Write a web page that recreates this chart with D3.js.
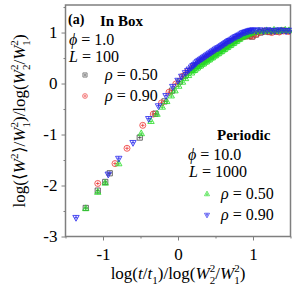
<!DOCTYPE html>
<meta charset="utf-8">
<script src="https://d3js.org/d3.v7.min.js"></script>
<style>
  body { margin: 0; background: #fff; }
  text { font-family: "Liberation Serif", "Times New Roman", serif; fill: #000; }
</style>
<div id="my_dataviz"></div>
<script>

// data: [x, y] pairs for each series
var boxRho050 = [[-1.23,-2.44],[-1.07,-2.10],[-0.97,-1.93],[-0.91,-1.76],[-0.51,-1.06],[-0.30,-0.59],[-0.18,-0.35],[-0.08,-0.14],[0.02,0.04],[0.10,0.16],[0.18,0.27],[0.25,0.35],[0.32,0.43],[0.38,0.48],[0.44,0.53],[0.50,0.59],[0.55,0.64],[0.60,0.69],[0.65,0.74],[0.70,0.79],[0.74,0.83],[0.78,0.87],[0.82,0.90],[0.86,0.92],[0.90,0.93],[0.95,0.93],[0.99,0.92],[1.04,0.96],[1.10,1.00],[1.16,1.02],[1.22,1.01],[1.28,1.03],[1.34,1.02],[1.40,1.04],[1.46,1.03]];
var boxRho090 = [[-1.07,-1.96],[-0.84,-1.57],[-0.68,-1.27],[-0.47,-0.82],[-0.33,-0.60],[-0.22,-0.38],[-0.12,-0.17],[-0.03,-0.01],[0.06,0.14],[0.13,0.24],[0.20,0.33],[0.27,0.40],[0.33,0.46],[0.39,0.52],[0.45,0.58],[0.51,0.63],[0.56,0.67],[0.61,0.72],[0.66,0.77],[0.71,0.81],[0.75,0.85],[0.79,0.88],[0.83,0.90],[0.87,0.92],[0.91,0.93],[0.96,0.93],[1.00,0.93],[1.05,0.97],[1.10,1.01],[1.15,1.03],[1.20,1.02],[1.25,1.00],[1.30,1.02],[1.35,1.01],[1.41,1.03],[1.47,1.02]];
var perRho050 = [[-1.23,-2.45],[-1.07,-2.13],[-0.97,-1.95],[-0.79,-1.57],[-0.49,-0.98],[-0.36,-0.74],[-0.28,-0.60],[-0.21,-0.46],[-0.15,-0.35],[-0.09,-0.24],[-0.04,-0.14],[0.01,-0.05],[0.06,0.03],[0.10,0.10],[0.14,0.16],[0.18,0.21],[0.20,0.25],[0.22,0.26],[0.24,0.29],[0.26,0.31],[0.28,0.34],[0.30,0.35],[0.32,0.38],[0.34,0.39],[0.36,0.42],[0.38,0.43],[0.40,0.46],[0.42,0.47],[0.44,0.50],[0.46,0.51],[0.48,0.54],[0.50,0.55],[0.52,0.58],[0.54,0.59],[0.56,0.62],[0.58,0.63],[0.60,0.66],[0.62,0.67],[0.64,0.70],[0.66,0.71],[0.68,0.74],[0.70,0.75],[0.72,0.78],[0.74,0.79],[0.76,0.82],[0.78,0.83],[0.80,0.86],[0.82,0.87],[0.84,0.90],[0.86,0.91],[0.88,0.93],[0.90,0.94],[0.92,0.96],[0.94,0.97],[0.96,0.99],[0.98,0.99],[1.03,1.01],[1.08,1.03],[1.13,1.02],[1.18,1.04],[1.23,1.03],[1.28,1.05],[1.33,1.03],[1.38,1.04],[1.43,1.05],[1.48,1.04]];
var perRho090 = [[-1.36,-2.63],[-0.93,-1.78],[-0.79,-1.47],[-0.60,-1.16],[-0.39,-0.69],[-0.26,-0.44],[-0.16,-0.24],[-0.07,-0.06],[0.00,0.06],[0.05,0.14],[0.10,0.21],[0.13,0.25],[0.15,0.28],[0.18,0.32],[0.20,0.35],[0.22,0.37],[0.24,0.40],[0.26,0.43],[0.28,0.45],[0.30,0.47],[0.32,0.49],[0.34,0.51],[0.36,0.53],[0.38,0.55],[0.40,0.57],[0.42,0.59],[0.44,0.61],[0.46,0.63],[0.48,0.65],[0.50,0.67],[0.52,0.69],[0.54,0.70],[0.56,0.72],[0.58,0.74],[0.60,0.76],[0.62,0.78],[0.64,0.80],[0.66,0.82],[0.68,0.84],[0.70,0.85],[0.72,0.87],[0.74,0.89],[0.76,0.91],[0.78,0.92],[0.80,0.94],[0.82,0.95],[0.84,0.97],[0.86,0.99],[0.88,1.00],[0.90,1.01],[0.92,1.02],[0.94,1.03],[0.96,1.04],[0.98,1.04],[1.00,1.05],[1.04,1.04],[1.09,1.05],[1.14,1.03],[1.19,1.05],[1.24,1.04],[1.29,1.03],[1.34,1.05],[1.39,1.04],[1.44,1.03],[1.49,1.04]];

var xTicks = [-1, 0, 1];
var xMinor = [-1.5, -0.5, 0.5, 1.5];
var yTicks = [-3, -2, -1, 0, 1];
var yMinor = [-2.5, -1.5, -0.5, 0.5, 1.5];

// set the dimensions and margins of the graph
var margin = {top: 5, right: 1.5, bottom: 52.5, left: 65.5},
    width = 292 - margin.left - margin.right,
    height = 289 - margin.top - margin.bottom;

var svg = d3.select("#my_dataviz")
  .append("svg")
    .attr("width", 292)
    .attr("height", 289)
  .append("g")
    .attr("transform", "translate(" + margin.left + "," + margin.top + ")");

var x = d3.scaleLinear().domain([-1.5, 1.5]).range([0, width]);
var y = d3.scaleLinear().domain([-3, 1.54]).range([height, 0]);

var axisColor = "#7f7f7f";
var serif = "Liberation Serif, Times New Roman, serif";
var fmt = function(d) { return d < 0 ? "-" + Math.abs(d) : String(d); };

// frame
svg.append("rect")
  .attr("width", width).attr("height", height)
  .attr("fill", "none").attr("stroke", axisColor).attr("stroke-width", 1.5);

// X axis
var gx = svg.append("g").attr("transform", "translate(0," + height + ")");
gx.call(d3.axisBottom(x).tickValues(xTicks).tickSize(4).tickFormat(fmt));
gx.attr("font-family", serif).attr("font-size", 17);
gx.selectAll("text").attr("dy", "0.95em");
gx.append("g").call(d3.axisBottom(x).tickValues(xMinor).tickSize(2).tickFormat(""));
gx.selectAll(".domain").remove();
gx.selectAll("line").attr("stroke", axisColor);

// Y axis
var gy = svg.append("g");
gy.call(d3.axisLeft(y).tickValues(yTicks).tickSize(4).tickFormat(fmt));
gy.attr("font-family", serif).attr("font-size", 17);
gy.selectAll("text").attr("x", -8);
gy.append("g").call(d3.axisLeft(y).tickValues(yMinor.filter(function(v){ return v < 1.54; })).tickSize(2).tickFormat(""));
gy.selectAll(".domain").remove();
gy.selectAll("line").attr("stroke", axisColor);

// markers
var cross = "M-1.8,0H1.8M0,-1.8V1.8";
var shapes = {
  square: "M-2.6,-2.6H2.6V2.6H-2.6Z" + cross,
  circle: "M-3,0A3,3 0 1,0 3,0A3,3 0 1,0 -3,0Z" + cross,
  up: "M0,-3.6L3.2,2.2H-3.2Z" + "M-1.6,0.3H1.6M0,-1.8V2.2",
  down: "M0,3.6L3.2,-2.2H-3.2Z" + "M-1.6,-0.3H1.6M0,-2.2V1.8"
};

var series = [
  {data: boxRho050, shape: "square", color: "#444444"},
  {data: boxRho090, shape: "circle", color: "#ee3333"},
  {data: perRho050, shape: "up", color: "#22dd22"},
  {data: perRho090, shape: "down", color: "#2222ee"}
];

series.forEach(function(s) {
  svg.append("g").selectAll("path")
    .data(s.data)
    .enter()
    .append("path")
      .attr("transform", function(d) { return "translate(" + x(d[0]) + "," + y(d[1]) + ")"; })
      .attr("d", shapes[s.shape])
      .attr("fill", "none")
      .attr("stroke", s.color)
      .attr("stroke-width", 0.8);
});

// rich text helper: parts = [text, {i, sup, sub, b, dx}]
function rich(sel, parts, size) {
  var cur = 0;
  parts.forEach(function(p) {
    var o = p[1] || {};
    var target = o.sup ? -0.4 * size : (o.sub ? 0.28 * size : 0);
    var ts = sel.append("tspan").text(p[0]).attr("dy", target - cur);
    if (o.dx) ts.attr("dx", o.dx);
    if (o.i) ts.attr("font-style", "italic");
    if (o.b) ts.attr("font-weight", "bold");
    if (o.sup || o.sub) ts.attr("font-size", size * 0.65);
    cur = target;
  });
}

var root = d3.select("svg");
var fs = 17, back = -fs * 0.65 * 0.5;

// axis titles
var xt = root.append("text").attr("x", 178).attr("y", 279).attr("text-anchor", "middle").attr("font-size", fs);
rich(xt, [["log("], ["t", {i: 1}], ["/"], ["t", {i: 1}], ["1", {sub: 1}], [")/log("], ["W", {i: 1}],
  ["2", {sup: 1}], ["2", {sub: 1, dx: back}], ["/"], ["W", {i: 1}], ["2", {sup: 1}], ["1", {sub: 1, dx: back}], [")"]], fs);

var yt = root.append("text").attr("transform", "translate(25,121)rotate(-90)").attr("text-anchor", "middle").attr("font-size", fs);
rich(yt, [["log(\u27e8"], ["W", {i: 1}], ["2", {sup: 1}], ["\u27e9/"], ["W", {i: 1}], ["2", {sup: 1}], ["1", {sub: 1, dx: back}],
  [")/log("], ["W", {i: 1}], ["2", {sup: 1}], ["2", {sub: 1, dx: back}], ["/"], ["W", {i: 1}], ["2", {sup: 1}],
  ["1", {sub: 1, dx: back}], [")"]], fs);

// legends
function label(xp, yp, parts, size) {
  var t = root.append("text").attr("x", xp).attr("y", yp).attr("font-size", size);
  rich(t, parts, size);
}
label(68, 24, [["(a)", {b: 1}]], 14);
label(100, 26, [["In Box", {b: 1}]], 15);
label(69, 45, [["\u03d5", {i: 1}], [" = 1.0"]], 16);
label(69, 62, [["L", {i: 1}], [" = 100"]], 16);
label(105, 80, [["\u03c1", {i: 1}], [" = 0.50"]], 16);
label(105, 101, [["\u03c1", {i: 1}], [" = 0.90"]], 16);
label(217, 140, [["Periodic", {b: 1}]], 15);
label(188, 160, [["\u03d5", {i: 1}], [" = 10.0"]], 16);
label(189, 177, [["L", {i: 1}], [" = 1000"]], 16);
label(221, 199, [["\u03c1", {i: 1}], [" = 0.50"]], 16);
label(221, 220, [["\u03c1", {i: 1}], [" = 0.90"]], 16);

var legendMarks = [
  {x: 85, y: 75, s: series[0]},
  {x: 85, y: 96, s: series[1]},
  {x: 207, y: 194, s: series[2]},
  {x: 207, y: 215, s: series[3]}
];
root.append("g").selectAll("path")
  .data(legendMarks)
  .enter()
  .append("path")
    .attr("transform", function(d) { return "translate(" + d.x + "," + d.y + ") scale(0.8)"; })
    .attr("d", function(d) { return shapes[d.s.shape]; })
    .attr("fill", "none")
    .attr("stroke", function(d) { return d.s.color; })
    .attr("stroke-width", 0.8);

</script>
